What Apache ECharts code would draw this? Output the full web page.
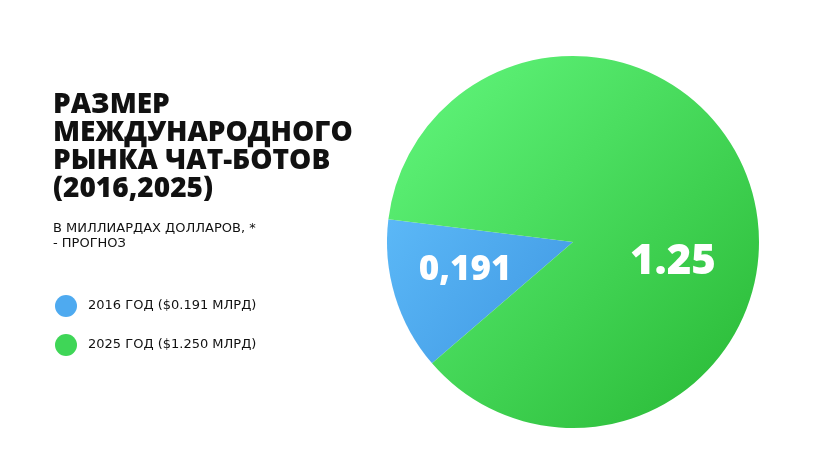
<!DOCTYPE html>
<html><head><meta charset="utf-8">
<script src="https://cdn.jsdelivr.net/npm/echarts@6/dist/echarts.min.js"></script>
<style>html,body{margin:0;padding:0;background:#fff}#c{width:815px;height:458px}</style>
</head><body><div id="c"></div>
<script>
const names = ['2016 ГОД ($0.191 МЛРД)', '2025 ГОД ($1.250 МЛРД)'];
const values = [0.191, 1.25];
const labels = ['0,191', '1.25'];
const chart = echarts.init(document.getElementById('c'));
const grad = (a, b) => new echarts.graphic.LinearGradient(0, 0, 1, 1, [{offset: 0, color: a}, {offset: 1, color: b}]);
const colors = [grad('#5bb8f7', '#3f97e2'), grad('#63f87e', '#27b733')];
const legendColors = ['#4eaaf0', '#3fd657'];
chart.setOption({
  animation: false,
  title: {
    text: 'РАЗМЕР\nМЕЖДУНАРОДНОГО\nРЫНКА ЧАТ-БОТОВ\n(2016,2025)',
    subtext: 'В МИЛЛИАРДАХ ДОЛЛАРОВ, *\n- ПРОГНОЗ',
    left: 48, top: 86, itemGap: 18,
    textStyle: {fontFamily: 'Open Sans', fontWeight: 800, fontSize: 28, lineHeight: 28, color: '#111'},
    subtextStyle: {fontFamily: 'DejaVu Sans', fontWeight: 500, fontSize: 13, lineHeight: 15, color: '#111'}
  },
  legend: {
    orient: 'vertical', left: 50, top: 290, itemGap: 17, icon: 'circle',
    itemWidth: 22, itemHeight: 22,
    textStyle: {fontFamily: 'DejaVu Sans', fontSize: 13, color: '#111', padding: [0, 0, 0, 6]},
    data: names.map((n, i) => ({name: n, itemStyle: {color: legendColors[i]}}))
  },
  series: [{
    type: 'pie', center: [573, 242], radius: 186, clockwise: false, startAngle: 173,
    labelLine: {show: false},
    label: {show: true, position: 'inside', color: '#fff', fontFamily: 'Open Sans', fontWeight: 800,
      formatter: p => labels[p.dataIndex]},
    data: names.map((n, i) => ({
      name: n, value: values[i], itemStyle: {color: colors[i]},
      label: i === 0 ? {fontSize: 35, offset: [-16, 0]} : {fontSize: 42, offset: [8, 48]}
    }))
  }]
});
</script></body></html>
